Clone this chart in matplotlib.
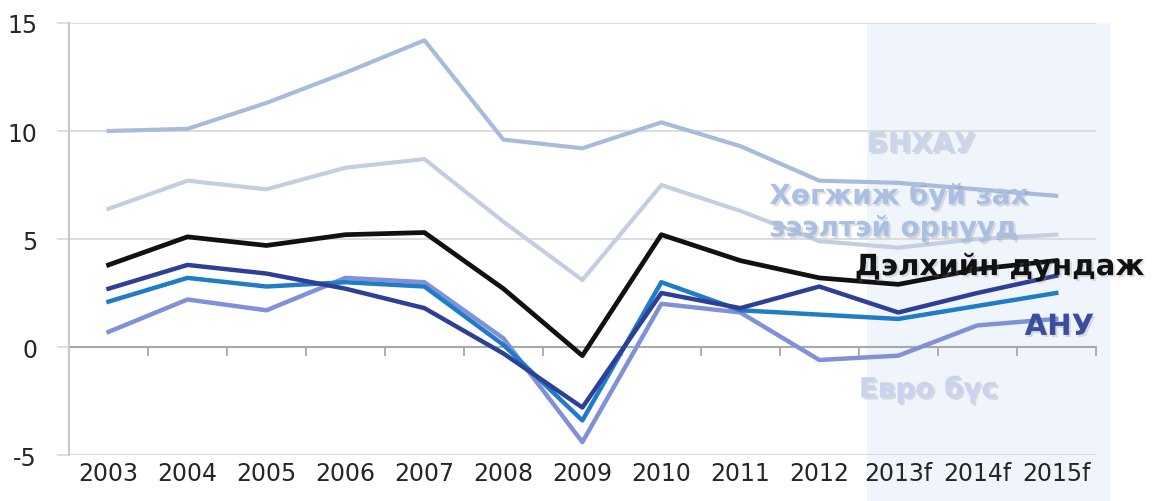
"""World GDP growth outlook, 2003-2015f, redrawn as a line chart."""

import matplotlib
matplotlib.use("Agg")
import matplotlib.pyplot as plt
import matplotlib.patheffects as pe


YEARS = ["2003", "2004", "2005", "2006", "2007", "2008", "2009",
         "2010", "2011", "2012", "2013f", "2014f", "2015f"]

CHINA = [10.0, 10.1, 11.3, 12.7, 14.2, 9.6, 9.2, 10.4, 9.3, 7.7, 7.6, 7.3, 7.0]
EMERGING = [6.4, 7.7, 7.3, 8.3, 8.7, 5.8, 3.1, 7.5, 6.3, 4.9, 4.6, 5.0, 5.2]
WORLD = [3.8, 5.1, 4.7, 5.2, 5.3, 2.7, -0.4, 5.2, 4.0, 3.2, 2.9, 3.6, 4.0]
USA = [2.7, 3.8, 3.4, 2.7, 1.8, -0.3, -2.8, 2.5, 1.8, 2.8, 1.6, 2.5, 3.3]
ADVANCED = [2.1, 3.2, 2.8, 3.0, 2.8, 0.1, -3.4, 3.0, 1.7, 1.5, 1.3, 1.9, 2.5]
EURO = [0.7, 2.2, 1.7, 3.2, 3.0, 0.4, -4.4, 2.0, 1.6, -0.6, -0.4, 1.0, 1.3]

Y_TICKS = [-5, 0, 5, 10, 15]
FORECAST_START = 9.6


def _label(ax, x, y, text, color, size=20):
    ax.text(
        x, y, text, color=color, fontsize=size, fontweight="bold",
        va="center", ha="left", zorder=10,
        path_effects=[pe.SimplePatchShadow(offset=(1.5, -1.5), shadow_rgbFace="#888888", alpha=0.25),
                      pe.Normal()],
    )


def main() -> None:
    plt.rcParams["font.family"] = ["DejaVu Sans"]
    fig = plt.figure(figsize=(11.68, 5.02), dpi=100)
    ax = fig.add_axes([0.0591, 0.0916, 0.879, 0.8606])

    xs = list(range(len(YEARS)))

    # forecast shading runs down past the axis, behind the tick labels
    ax.axvspan(FORECAST_START, len(YEARS) - 0.5 + 0.18, ymin=-0.11, ymax=1.0,
               color="#f0f4fb", zorder=0, clip_on=False, lw=0)

    for y in Y_TICKS:
        if y != 0:
            ax.axhline(y, color="#dcdcdc", lw=1.4, zorder=1)
    ax.axhline(0, color="#a8a8a8", lw=1.5, zorder=1)
    for b in range(1, len(YEARS) + 1):
        ax.plot([b - 0.5, b - 0.5], [0, -0.38], color="#a8a8a8", lw=1.3, zorder=1, clip_on=False)

    ax.plot(xs, CHINA, color="#a7bcdb", lw=3.0, zorder=2)
    ax.plot(xs, EMERGING, color="#c3cfe0", lw=3.0, zorder=2)
    ax.plot(xs, EURO, color="#8091d8", lw=3.2, zorder=3)
    ax.plot(xs, ADVANCED, color="#1f7cc6", lw=3.2, zorder=4)
    ax.plot(xs, USA, color="#2d3f96", lw=3.2, zorder=5)
    ax.plot(xs, WORLD, color="#111111", lw=3.4, zorder=6)

    ax.set_xlim(-0.5, len(YEARS) - 0.5)
    ax.set_ylim(-5, 15)
    ax.set_yticks(Y_TICKS)
    ax.set_yticklabels([str(v) for v in Y_TICKS])
    ax.set_xticks(xs)
    ax.set_xticklabels(YEARS)
    ax.tick_params(axis="x", length=0, pad=4, labelsize=17, labelcolor="#262626")
    ax.tick_params(axis="y", length=9, width=1.3, color="#dcdcdc", pad=14,
                   labelsize=17, labelcolor="#262626")

    for side in ["top", "right", "bottom"]:
        ax.spines[side].set_visible(False)
    ax.spines["left"].set_color("#c8c8c8")
    ax.spines["left"].set_linewidth(1.5)
    ax.patch.set_alpha(0)

    _label(ax, 9.6, 9.4, "БНХАУ", "#c9d5ea")
    _label(ax, 8.37, 7.0, "Хөгжиж буй зах", "#a9c0e4")
    _label(ax, 8.37, 5.5, "зээлтэй орнууд", "#a9c0e4")
    _label(ax, 9.45, 3.7, "Дэлхийн дундаж", "#111111", size=21)
    _label(ax, 11.6, 0.93, "АНУ", "#3b4d9e", size=21)
    _label(ax, 9.5, -1.95, "Евро бүс", "#c7d3f0")

    fig.savefig("out.png", dpi=100)
    plt.close(fig)


if __name__ == "__main__":
    main()
